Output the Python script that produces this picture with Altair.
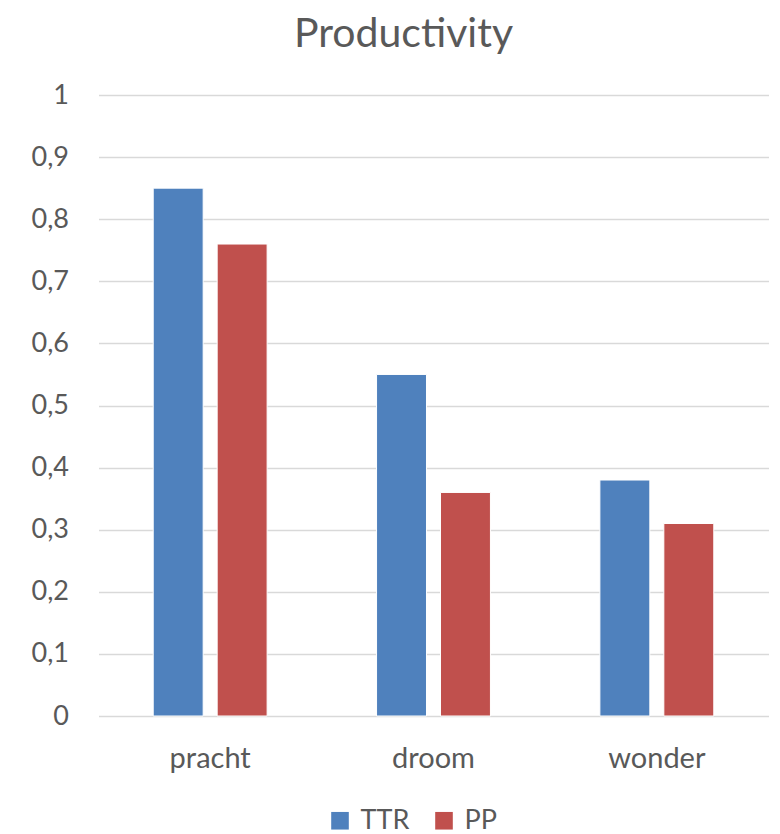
import altair as alt
import pandas as pd

categories = ["pracht", "droom", "wonder"]
series = ["TTR", "PP"]
ttr_values = [0.85, 0.55, 0.38]
pp_values = [0.76, 0.36, 0.31]
y_ticks = [0, 0.1, 0.2, 0.3, 0.4, 0.5, 0.6, 0.7, 0.8, 0.9, 1.0]
colors = ["#4F81BD", "#C0504D"]

rows = []
for c, t, p in zip(categories, ttr_values, pp_values):
    rows.append({"category": c, "series": "TTR", "value": t})
    rows.append({"category": c, "series": "PP", "value": p})
df = pd.DataFrame(rows)

FONT = "Lato"
TXT = "#595959"

chart = alt.Chart(df).mark_bar(stroke="white", strokeWidth=1).encode(
    x=alt.X("category:N", sort=categories,
            scale=alt.Scale(paddingInner=0.49, paddingOuter=0.245),
            axis=alt.Axis(title=None, labelAngle=0, ticks=False, domain=False,
                          labelFontSize=29, labelColor=TXT, labelFont=FONT,
                          labelPadding=28, grid=False)),
    xOffset=alt.XOffset("series:N", sort=series,
                        scale=alt.Scale(paddingInner=0.219, paddingOuter=0)),
    y=alt.Y("value:Q", scale=alt.Scale(domain=[0, 1], nice=False),
            axis=alt.Axis(title=None, values=y_ticks, format=".1~f",
                          labelExpr="replace(datum.label, '.', ',')",
                          ticks=False, domain=False, gridColor="#D9D9D9",
                          gridWidth=1.3, labelFontSize=27, labelColor=TXT,
                          labelFont=FONT, labelPadding=30)),
    color=alt.Color("series:N", sort=series,
                    scale=alt.Scale(domain=series, range=colors),
                    legend=alt.Legend(title=None, orient="none", direction="horizontal",
                                      legendX=228, legendY=712, symbolType="square",
                                      symbolSize=310, symbolStrokeWidth=0,
                                      labelFontSize=27, labelColor=TXT, labelFont=FONT,
                                      labelOffset=7, columnPadding=21)),
).properties(
    width=670,
    height=621,
    title=alt.TitleParams("Productivity", fontSize=41, font=FONT, color=TXT,
                          fontWeight="normal", anchor="middle", dx=-30, offset=25),
    autosize=alt.AutoSizeParams(type="none"),
    padding={"left": 90.5, "top": 87, "right": 2, "bottom": 118},
).configure_view(stroke=None)

chart.save("out.html", embed_options={"renderer": "svg", "actions": False})
